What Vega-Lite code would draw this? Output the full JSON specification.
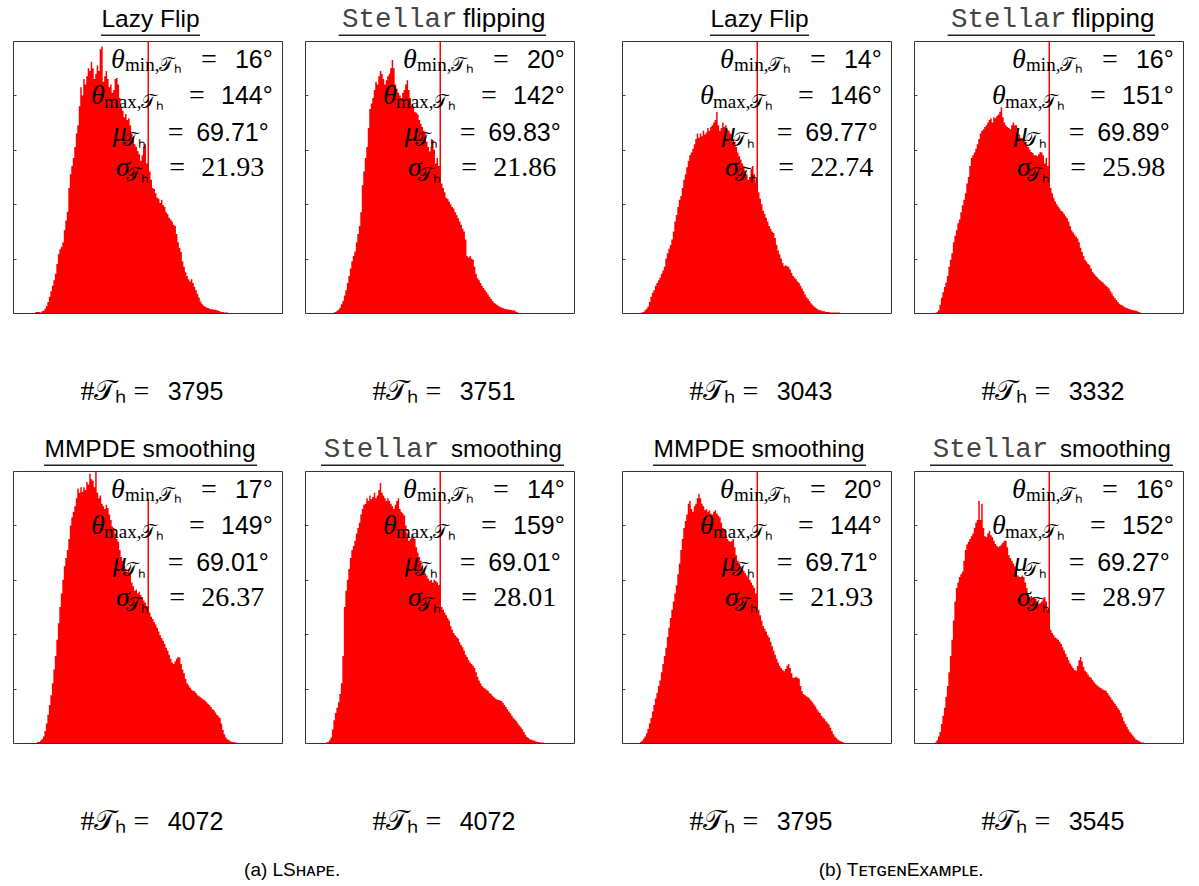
{
"$schema":"https://vega.github.io/schema/vega-lite/v6.json",
"background":"white",
"padding":{"left":9,"top":3,"right":7,"bottom":4},
"spacing":43,
"config":{"view":{"stroke":"#333","strokeWidth":1},"font":"Liberation Sans","text":{"color":"#000"},"headerFacet":{"labels":false,"title":null,"labelFontSize":1,"labelPadding":0,"labelColor":"transparent","labelExpr":"''"}},
"datasets":{
"info":[
{"p":"a1","tc":"Lazy Flip","tm":"","ts":"","tmin":"16°","tmax":"144°","mu":"69.71°","sg":"21.93","n":"3795"},
{"p":"a2","tc":"","tm":"Stellar","ts":"flipping","tmin":"20°","tmax":"142°","mu":"69.83°","sg":"21.86","n":"3751"},
{"p":"a3","tc":"MMPDE smoothing","tm":"","ts":"","tmin":"17°","tmax":"149°","mu":"69.01°","sg":"26.37","n":"4072"},
{"p":"a4","tc":"","tm":"Stellar","ts":"smoothing","tmin":"14°","tmax":"159°","mu":"69.01°","sg":"28.01","n":"4072"},
{"p":"b1","tc":"Lazy Flip","tm":"","ts":"","tmin":"14°","tmax":"146°","mu":"69.77°","sg":"22.74","n":"3043"},
{"p":"b2","tc":"","tm":"Stellar","ts":"flipping","tmin":"16°","tmax":"151°","mu":"69.89°","sg":"25.98","n":"3332"},
{"p":"b3","tc":"MMPDE smoothing","tm":"","ts":"","tmin":"20°","tmax":"144°","mu":"69.71°","sg":"21.93","n":"3795"},
{"p":"b4","tc":"","tm":"Stellar","ts":"smoothing","tmin":"16°","tmax":"152°","mu":"69.27°","sg":"28.97","n":"3545"}
],
"hist":[
{"x":12,"a1":0,"a2":0,"a3":0,"a4":0,"b1":0,"b2":0,"b3":0.02,"b4":0},
{"x":13,"a1":0,"a2":0,"a3":0,"a4":0,"b1":0.01,"b2":0,"b3":0.04,"b4":0},
{"x":14,"a1":0,"a2":0,"a3":0,"a4":0.01,"b1":0.02,"b2":0,"b3":0.08,"b4":0.01},
{"x":15,"a1":0.02,"a2":0,"a3":0,"a4":0.02,"b1":0.05,"b2":0.02,"b3":0.12,"b4":0.05},
{"x":16,"a1":0.02,"a2":0,"a3":0.02,"a4":0.05,"b1":0.08,"b2":0.05,"b3":0.18,"b4":0.12},
{"x":17,"a1":0.02,"a2":0,"a3":0.02,"a4":0.1,"b1":0.12,"b2":0.15,"b3":0.26,"b4":0.2},
{"x":18,"a1":0.01,"a2":0,"a3":0.04,"a4":0.25,"b1":0.2,"b2":0.28,"b3":0.36,"b4":0.35},
{"x":19,"a1":0.03,"a2":0.01,"a3":0.07,"a4":0.42,"b1":0.3,"b2":0.38,"b3":0.46,"b4":0.5},
{"x":20,"a1":0.04,"a2":0.02,"a3":0.12,"a4":0.55,"b1":0.37,"b2":0.48,"b3":0.58,"b4":0.65},
{"x":21,"a1":0.08,"a2":0.04,"a3":0.22,"a4":0.65,"b1":0.42,"b2":0.56,"b3":0.7,"b4":0.85},
{"x":22,"a1":0.13,"a2":0.06,"a3":0.36,"a4":0.75,"b1":0.5,"b2":0.68,"b3":0.82,"b4":1.05},
{"x":23,"a1":0.2,"a2":0.1,"a3":0.52,"a4":0.9,"b1":0.55,"b2":0.85,"b3":0.92,"b4":1.3},
{"x":24,"a1":0.3,"a2":0.16,"a3":0.7,"a4":1.1,"b1":0.6,"b2":0.98,"b3":1.05,"b4":1.6},
{"x":25,"a1":0.4,"a2":0.22,"a3":0.88,"a4":1.6,"b1":0.65,"b2":1.1,"b3":1.15,"b4":1.9},
{"x":26,"a1":0.5,"a2":0.32,"a3":1.1,"a4":2.5,"b1":0.72,"b2":1.3,"b3":1.3,"b4":2.25},
{"x":27,"a1":0.6,"a2":0.42,"a3":1.35,"a4":2.8,"b1":0.78,"b2":1.42,"b3":1.45,"b4":2.6},
{"x":28,"a1":0.72,"a2":0.55,"a3":1.6,"a4":3.0,"b1":0.85,"b2":1.52,"b3":1.6,"b4":2.85},
{"x":29,"a1":0.9,"a2":0.68,"a3":1.9,"a4":3.2,"b1":1.0,"b2":1.65,"b3":1.75,"b4":2.95},
{"x":30,"a1":1.08,"a2":0.82,"a3":2.2,"a4":3.4,"b1":1.1,"b2":1.72,"b3":1.95,"b4":3.05},
{"x":31,"a1":1.17,"a2":0.95,"a3":2.5,"a4":3.55,"b1":1.18,"b2":1.85,"b3":2.12,"b4":3.1},
{"x":32,"a1":1.22,"a2":1.05,"a3":2.75,"a4":3.62,"b1":1.25,"b2":1.98,"b3":2.3,"b4":3.15},
{"x":33,"a1":1.3,"a2":1.13,"a3":3.0,"a4":3.72,"b1":1.35,"b2":2.08,"b3":2.45,"b4":3.35},
{"x":34,"a1":1.52,"a2":1.3,"a3":3.25,"a4":3.85,"b1":1.5,"b2":2.2,"b3":2.6,"b4":3.55},
{"x":35,"a1":1.7,"a2":1.45,"a3":3.4,"a4":3.95,"b1":1.68,"b2":2.38,"b3":2.75,"b4":3.65},
{"x":36,"a1":1.86,"a2":1.6,"a3":3.55,"a4":4.05,"b1":1.8,"b2":2.5,"b3":2.9,"b4":3.7},
{"x":37,"a1":2.3,"a2":1.85,"a3":3.75,"a4":4.2,"b1":1.95,"b2":2.7,"b3":3.1,"b4":3.75},
{"x":38,"a1":2.55,"a2":2.35,"a3":4.0,"a4":4.3,"b1":2.08,"b2":2.85,"b3":3.3,"b4":3.8},
{"x":39,"a1":2.7,"a2":2.6,"a3":4.15,"a4":4.38,"b1":2.15,"b2":2.9,"b3":3.55,"b4":3.85},
{"x":40,"a1":2.85,"a2":2.85,"a3":4.25,"a4":4.4,"b1":2.3,"b2":2.95,"b3":3.75,"b4":3.95},
{"x":41,"a1":3.05,"a2":3.05,"a3":4.35,"a4":4.5,"b1":2.45,"b2":3.02,"b3":3.95,"b4":4.05},
{"x":42,"a1":3.3,"a2":3.4,"a3":4.5,"a4":4.45,"b1":2.55,"b2":3.1,"b3":4.08,"b4":4.1},
{"x":43,"a1":3.45,"a2":3.75,"a3":4.68,"a4":4.55,"b1":2.68,"b2":3.2,"b3":4.2,"b4":4.45},
{"x":44,"a1":3.8,"a2":3.85,"a3":4.6,"a4":4.48,"b1":2.8,"b2":3.3,"b3":4.4,"b4":4.1},
{"x":45,"a1":4.15,"a2":3.95,"a3":4.7,"a4":4.52,"b1":2.9,"b2":3.35,"b3":4.45,"b4":4.4},
{"x":46,"a1":4.0,"a2":4.1,"a3":4.62,"a4":4.6,"b1":2.95,"b2":3.38,"b3":4.3,"b4":3.95},
{"x":47,"a1":4.3,"a2":4.25,"a3":4.7,"a4":4.5,"b1":3.02,"b2":3.42,"b3":4.25,"b4":3.8},
{"x":48,"a1":4.2,"a2":4.2,"a3":4.65,"a4":4.55,"b1":3.1,"b2":3.45,"b3":4.35,"b4":3.78},
{"x":49,"a1":4.35,"a2":4.35,"a3":4.8,"a4":4.65,"b1":3.2,"b2":3.5,"b3":4.4,"b4":3.85},
{"x":50,"a1":4.5,"a2":4.45,"a3":4.75,"a4":4.78,"b1":3.3,"b2":3.55,"b3":4.5,"b4":3.9},
{"x":51,"a1":4.45,"a2":4.4,"a3":4.95,"a4":4.6,"b1":3.22,"b2":3.58,"b3":4.58,"b4":3.82},
{"x":52,"a1":4.62,"a2":4.3,"a3":4.85,"a4":4.55,"b1":3.3,"b2":3.5,"b3":4.5,"b4":3.78},
{"x":53,"a1":4.5,"a2":4.2,"a3":4.82,"a4":4.5,"b1":3.25,"b2":3.6,"b3":4.4,"b4":3.72},
{"x":54,"a1":4.3,"a2":4.28,"a3":4.7,"a4":4.45,"b1":3.35,"b2":3.58,"b3":4.35,"b4":3.66},
{"x":55,"a1":4.4,"a2":4.35,"a3":5.0,"a4":4.5,"b1":3.28,"b2":3.62,"b3":4.28,"b4":3.62},
{"x":56,"a1":4.55,"a2":4.4,"a3":4.6,"a4":4.45,"b1":3.32,"b2":3.65,"b3":4.3,"b4":3.6},
{"x":57,"a1":4.45,"a2":4.5,"a3":4.5,"a4":4.4,"b1":3.4,"b2":3.7,"b3":4.25,"b4":3.62},
{"x":58,"a1":4.85,"a2":4.65,"a3":4.55,"a4":4.35,"b1":3.35,"b2":3.78,"b3":4.28,"b4":3.65},
{"x":59,"a1":4.9,"a2":4.5,"a3":4.4,"a4":4.3,"b1":3.42,"b2":3.6,"b3":4.22,"b4":3.68},
{"x":60,"a1":4.25,"a2":4.2,"a3":4.35,"a4":4.38,"b1":3.45,"b2":3.5,"b3":4.2,"b4":3.72},
{"x":61,"a1":4.35,"a2":4.12,"a3":4.3,"a4":4.45,"b1":3.5,"b2":3.45,"b3":4.25,"b4":3.72},
{"x":62,"a1":4.45,"a2":4.05,"a3":4.38,"a4":4.5,"b1":3.55,"b2":3.42,"b3":4.28,"b4":3.6},
{"x":63,"a1":4.3,"a2":4.0,"a3":4.32,"a4":4.3,"b1":3.7,"b2":3.4,"b3":4.22,"b4":3.45},
{"x":64,"a1":4.15,"a2":3.95,"a3":4.2,"a4":4.25,"b1":3.45,"b2":3.38,"b3":4.18,"b4":3.4},
{"x":65,"a1":4.2,"a2":4.05,"a3":4.1,"a4":4.22,"b1":3.35,"b2":3.45,"b3":4.15,"b4":3.35},
{"x":66,"a1":4.05,"a2":4.1,"a3":3.98,"a4":4.18,"b1":3.4,"b2":3.5,"b3":4.05,"b4":3.3},
{"x":67,"a1":4.1,"a2":4.2,"a3":3.95,"a4":4.0,"b1":3.5,"b2":3.45,"b3":3.95,"b4":3.25},
{"x":68,"a1":4.3,"a2":4.28,"a3":3.85,"a4":3.85,"b1":3.42,"b2":3.45,"b3":3.9,"b4":3.15},
{"x":69,"a1":4.32,"a2":4.1,"a3":3.75,"a4":3.72,"b1":3.45,"b2":3.35,"b3":3.82,"b4":3.08},
{"x":70,"a1":4.2,"a2":3.95,"a3":3.7,"a4":3.75,"b1":3.38,"b2":3.28,"b3":3.75,"b4":3.05},
{"x":71,"a1":3.95,"a2":3.82,"a3":3.55,"a4":3.8,"b1":3.35,"b2":3.22,"b3":3.72,"b4":3.05},
{"x":72,"a1":3.78,"a2":3.78,"a3":3.42,"a4":3.78,"b1":3.3,"b2":3.2,"b3":3.7,"b4":3.08},
{"x":73,"a1":3.72,"a2":3.7,"a3":3.35,"a4":3.75,"b1":3.28,"b2":3.18,"b3":3.72,"b4":3.05},
{"x":74,"a1":3.6,"a2":3.68,"a3":3.25,"a4":3.6,"b1":3.2,"b2":3.15,"b3":3.75,"b4":2.95},
{"x":75,"a1":3.66,"a2":3.65,"a3":3.2,"a4":3.5,"b1":3.15,"b2":3.1,"b3":3.6,"b4":2.85},
{"x":76,"a1":3.55,"a2":3.55,"a3":3.15,"a4":3.42,"b1":3.05,"b2":3.05,"b3":3.45,"b4":2.72},
{"x":77,"a1":3.58,"a2":3.48,"a3":3.18,"a4":3.35,"b1":2.95,"b2":3.0,"b3":3.35,"b4":2.68},
{"x":78,"a1":3.45,"a2":3.42,"a3":3.1,"a4":3.25,"b1":2.88,"b2":2.96,"b3":3.29,"b4":2.7},
{"x":79,"a1":3.3,"a2":3.35,"a3":2.95,"a4":3.18,"b1":2.82,"b2":2.94,"b3":3.25,"b4":2.68},
{"x":80,"a1":3.22,"a2":3.3,"a3":2.88,"a4":3.12,"b1":2.75,"b2":2.9,"b3":3.2,"b4":2.68},
{"x":81,"a1":3.1,"a2":3.15,"a3":2.8,"a4":3.08,"b1":2.7,"b2":2.9,"b3":3.17,"b4":2.65},
{"x":82,"a1":3.05,"a2":3.05,"a3":2.82,"a4":3.02,"b1":2.62,"b2":2.88,"b3":3.12,"b4":2.6},
{"x":83,"a1":2.98,"a2":2.97,"a3":2.75,"a4":2.98,"b1":2.55,"b2":2.92,"b3":3.08,"b4":2.56},
{"x":84,"a1":2.92,"a2":3.05,"a3":2.78,"a4":3.0,"b1":2.45,"b2":2.96,"b3":3.04,"b4":2.58},
{"x":85,"a1":2.8,"a2":3.18,"a3":2.72,"a4":2.95,"b1":2.5,"b2":2.95,"b3":3.0,"b4":2.6},
{"x":86,"a1":2.9,"a2":3.0,"a3":2.68,"a4":3.0,"b1":2.65,"b2":2.9,"b3":2.95,"b4":2.65},
{"x":87,"a1":3.05,"a2":2.75,"a3":2.62,"a4":2.98,"b1":2.7,"b2":2.75,"b3":2.9,"b4":2.68},
{"x":88,"a1":3.1,"a2":2.85,"a3":2.58,"a4":2.95,"b1":2.55,"b2":2.85,"b3":2.85,"b4":2.6},
{"x":89,"a1":2.75,"a2":2.7,"a3":2.52,"a4":2.9,"b1":2.4,"b2":2.7,"b3":2.75,"b4":2.45},
{"x":90,"a1":5.6,"a2":5.6,"a3":4.49,"a4":5.6,"b1":5.6,"b2":5.6,"b3":5.6,"b4":5.6},
{"x":91,"a1":2.6,"a2":2.38,"a3":2.4,"a4":2.5,"b1":2.22,"b2":2.3,"b3":2.45,"b4":2.08},
{"x":92,"a1":2.45,"a2":2.3,"a3":2.32,"a4":2.45,"b1":2.1,"b2":2.2,"b3":2.35,"b4":2.02},
{"x":93,"a1":2.3,"a2":2.22,"a3":2.28,"a4":2.4,"b1":2.0,"b2":2.12,"b3":2.25,"b4":1.98},
{"x":94,"a1":2.28,"a2":2.12,"a3":2.22,"a4":2.35,"b1":1.88,"b2":2.05,"b3":2.15,"b4":1.94},
{"x":95,"a1":2.2,"a2":2.1,"a3":2.18,"a4":2.3,"b1":1.82,"b2":2.0,"b3":2.1,"b4":1.92},
{"x":96,"a1":2.12,"a2":2.05,"a3":2.12,"a4":2.25,"b1":1.75,"b2":1.96,"b3":2.05,"b4":1.9},
{"x":97,"a1":2.1,"a2":2.0,"a3":2.05,"a4":2.15,"b1":1.68,"b2":1.92,"b3":1.98,"b4":1.86},
{"x":98,"a1":2.02,"a2":1.95,"a3":1.98,"a4":2.08,"b1":1.6,"b2":1.88,"b3":1.94,"b4":1.82},
{"x":99,"a1":2.08,"a2":1.92,"a3":1.93,"a4":2.02,"b1":1.55,"b2":1.86,"b3":1.86,"b4":1.76},
{"x":100,"a1":1.98,"a2":1.85,"a3":1.88,"a4":1.98,"b1":1.5,"b2":1.82,"b3":1.78,"b4":1.7},
{"x":101,"a1":1.95,"a2":1.8,"a3":1.82,"a4":1.95,"b1":1.47,"b2":1.78,"b3":1.7,"b4":1.64},
{"x":102,"a1":1.85,"a2":1.74,"a3":1.75,"a4":1.92,"b1":1.38,"b2":1.74,"b3":1.62,"b4":1.58},
{"x":103,"a1":1.82,"a2":1.68,"a3":1.7,"a4":1.85,"b1":1.25,"b2":1.68,"b3":1.55,"b4":1.52},
{"x":104,"a1":1.75,"a2":1.62,"a3":1.62,"a4":1.8,"b1":1.15,"b2":1.6,"b3":1.48,"b4":1.46},
{"x":105,"a1":1.72,"a2":1.55,"a3":1.55,"a4":1.76,"b1":1.08,"b2":1.52,"b3":1.42,"b4":1.42},
{"x":106,"a1":1.68,"a2":1.5,"a3":1.48,"a4":1.7,"b1":1.0,"b2":1.48,"b3":1.38,"b4":1.38},
{"x":107,"a1":1.62,"a2":1.35,"a3":1.45,"a4":1.62,"b1":0.92,"b2":1.44,"b3":1.34,"b4":1.34},
{"x":108,"a1":1.6,"a2":1.05,"a3":1.5,"a4":1.58,"b1":0.86,"b2":1.4,"b3":1.32,"b4":1.33},
{"x":109,"a1":1.45,"a2":1.02,"a3":1.55,"a4":1.52,"b1":0.88,"b2":1.37,"b3":1.36,"b4":1.42},
{"x":110,"a1":1.3,"a2":1.05,"a3":1.58,"a4":1.48,"b1":0.86,"b2":1.3,"b3":1.42,"b4":1.52},
{"x":111,"a1":1.2,"a2":1.0,"a3":1.57,"a4":1.45,"b1":0.85,"b2":1.2,"b3":1.45,"b4":1.58},
{"x":112,"a1":1.12,"a2":0.98,"a3":1.45,"a4":1.42,"b1":0.8,"b2":1.12,"b3":1.38,"b4":1.5},
{"x":113,"a1":0.95,"a2":0.85,"a3":1.35,"a4":1.38,"b1":0.74,"b2":1.05,"b3":1.28,"b4":1.4},
{"x":114,"a1":0.85,"a2":0.72,"a3":1.28,"a4":1.3,"b1":0.68,"b2":0.98,"b3":1.2,"b4":1.33},
{"x":115,"a1":0.75,"a2":0.64,"a3":1.18,"a4":1.22,"b1":0.65,"b2":0.94,"b3":1.2,"b4":1.3},
{"x":116,"a1":0.68,"a2":0.6,"a3":1.1,"a4":1.15,"b1":0.62,"b2":0.9,"b3":1.22,"b4":1.26},
{"x":117,"a1":0.62,"a2":0.55,"a3":1.06,"a4":1.1,"b1":0.58,"b2":0.88,"b3":1.2,"b4":1.22},
{"x":118,"a1":0.58,"a2":0.5,"a3":1.02,"a4":1.05,"b1":0.55,"b2":0.82,"b3":1.18,"b4":1.2},
{"x":119,"a1":0.62,"a2":0.46,"a3":0.98,"a4":1.02,"b1":0.5,"b2":0.76,"b3":1.05,"b4":1.16},
{"x":120,"a1":0.55,"a2":0.42,"a3":0.96,"a4":1.0,"b1":0.45,"b2":0.72,"b3":0.95,"b4":1.12},
{"x":121,"a1":0.48,"a2":0.38,"a3":0.95,"a4":0.98,"b1":0.4,"b2":0.69,"b3":0.9,"b4":1.09},
{"x":122,"a1":0.42,"a2":0.34,"a3":0.92,"a4":0.96,"b1":0.34,"b2":0.66,"b3":0.88,"b4":1.06},
{"x":123,"a1":0.35,"a2":0.3,"a3":0.88,"a4":0.92,"b1":0.29,"b2":0.63,"b3":0.86,"b4":1.04},
{"x":124,"a1":0.28,"a2":0.26,"a3":0.86,"a4":0.9,"b1":0.26,"b2":0.6,"b3":0.84,"b4":1.02},
{"x":125,"a1":0.21,"a2":0.22,"a3":0.84,"a4":0.87,"b1":0.22,"b2":0.58,"b3":0.82,"b4":1.0},
{"x":126,"a1":0.17,"a2":0.19,"a3":0.82,"a4":0.84,"b1":0.18,"b2":0.56,"b3":0.78,"b4":0.98},
{"x":127,"a1":0.14,"a2":0.17,"a3":0.8,"a4":0.82,"b1":0.15,"b2":0.53,"b3":0.75,"b4":0.97},
{"x":128,"a1":0.12,"a2":0.15,"a3":0.78,"a4":0.8,"b1":0.12,"b2":0.5,"b3":0.71,"b4":0.96},
{"x":129,"a1":0.1,"a2":0.13,"a3":0.75,"a4":0.79,"b1":0.1,"b2":0.48,"b3":0.67,"b4":0.92},
{"x":130,"a1":0.09,"a2":0.11,"a3":0.72,"a4":0.78,"b1":0.08,"b2":0.45,"b3":0.62,"b4":0.88},
{"x":131,"a1":0.08,"a2":0.1,"a3":0.7,"a4":0.77,"b1":0.06,"b2":0.4,"b3":0.58,"b4":0.84},
{"x":132,"a1":0.07,"a2":0.09,"a3":0.66,"a4":0.74,"b1":0.05,"b2":0.36,"b3":0.55,"b4":0.8},
{"x":133,"a1":0.07,"a2":0.08,"a3":0.62,"a4":0.7,"b1":0.04,"b2":0.31,"b3":0.5,"b4":0.76},
{"x":134,"a1":0.06,"a2":0.07,"a3":0.6,"a4":0.66,"b1":0.03,"b2":0.27,"b3":0.47,"b4":0.72},
{"x":135,"a1":0.06,"a2":0.07,"a3":0.56,"a4":0.62,"b1":0.03,"b2":0.24,"b3":0.44,"b4":0.68},
{"x":136,"a1":0.05,"a2":0.06,"a3":0.52,"a4":0.58,"b1":0.02,"b2":0.2,"b3":0.4,"b4":0.64},
{"x":137,"a1":0.04,"a2":0.06,"a3":0.49,"a4":0.54,"b1":0.02,"b2":0.17,"b3":0.37,"b4":0.6},
{"x":138,"a1":0.03,"a2":0.05,"a3":0.46,"a4":0.5,"b1":0.02,"b2":0.15,"b3":0.34,"b4":0.55},
{"x":139,"a1":0.02,"a2":0.05,"a3":0.36,"a4":0.46,"b1":0.01,"b2":0.14,"b3":0.28,"b4":0.48},
{"x":140,"a1":0.02,"a2":0.04,"a3":0.24,"a4":0.43,"b1":0.01,"b2":0.12,"b3":0.22,"b4":0.4},
{"x":141,"a1":0.01,"a2":0.02,"a3":0.16,"a4":0.4,"b1":0.01,"b2":0.1,"b3":0.16,"b4":0.35},
{"x":142,"a1":0.01,"a2":0.01,"a3":0.1,"a4":0.36,"b1":0.01,"b2":0.09,"b3":0.12,"b4":0.3},
{"x":143,"a1":0.01,"a2":0,"a3":0.07,"a4":0.32,"b1":0.01,"b2":0.08,"b3":0.09,"b4":0.25},
{"x":144,"a1":0,"a2":0,"a3":0.05,"a4":0.29,"b1":0.01,"b2":0.07,"b3":0.06,"b4":0.2},
{"x":145,"a1":0,"a2":0,"a3":0.03,"a4":0.25,"b1":0.01,"b2":0.06,"b3":0.04,"b4":0.17},
{"x":146,"a1":0,"a2":0,"a3":0.02,"a4":0.2,"b1":0,"b2":0.05,"b3":0.03,"b4":0.14},
{"x":147,"a1":0,"a2":0,"a3":0.02,"a4":0.15,"b1":0,"b2":0.05,"b3":0.02,"b4":0.1},
{"x":148,"a1":0,"a2":0,"a3":0.01,"a4":0.11,"b1":0,"b2":0.04,"b3":0.01,"b4":0.07},
{"x":149,"a1":0,"a2":0,"a3":0.01,"a4":0.09,"b1":0,"b2":0.03,"b3":0,"b4":0.05},
{"x":150,"a1":0,"a2":0,"a3":0,"a4":0.07,"b1":0,"b2":0.02,"b3":0,"b4":0.04},
{"x":151,"a1":0,"a2":0,"a3":0,"a4":0.06,"b1":0,"b2":0.01,"b3":0,"b4":0.02},
{"x":152,"a1":0,"a2":0,"a3":0,"a4":0.05,"b1":0,"b2":0,"b3":0,"b4":0.01},
{"x":153,"a1":0,"a2":0,"a3":0,"a4":0.04,"b1":0,"b2":0,"b3":0,"b4":0.01},
{"x":154,"a1":0,"a2":0,"a3":0,"a4":0.03,"b1":0,"b2":0,"b3":0,"b4":0},
{"x":155,"a1":0,"a2":0,"a3":0,"a4":0.02,"b1":0,"b2":0,"b3":0,"b4":0},
{"x":156,"a1":0,"a2":0,"a3":0,"a4":0.02,"b1":0,"b2":0,"b3":0,"b4":0},
{"x":157,"a1":0,"a2":0,"a3":0,"a4":0.01,"b1":0,"b2":0,"b3":0,"b4":0},
{"x":158,"a1":0,"a2":0,"a3":0,"a4":0.01,"b1":0,"b2":0,"b3":0,"b4":0},
{"x":159,"a1":0,"a2":0,"a3":0,"a4":0.01,"b1":0,"b2":0,"b3":0,"b4":0},
{"x":160,"a1":0,"a2":0,"a3":0,"a4":0,"b1":0,"b2":0,"b3":0,"b4":0}
]},
"hconcat":[
{
"data":{"name":"hist"},
"transform":[{"fold":["a1","a2","a3","a4"],"as":["p","y"]},{"lookup":"p","from":{"data":{"name":"info"},"key":"p","fields":["tc","tm","ts","tmin","tmax","mu","sg","n"]}}],
"facet":{"field":"p","type":"nominal","title":null,"header":{"labels":false,"title":null,"labelFontSize":1,"labelPadding":0,"labelColor":"transparent","labelExpr":"''"}},
"columns":2,
"spacing":{"row":158,"column":23},
"bounds":"flush",
"resolve":{"axis":{"x":"independent","y":"independent"}},
"title":{"text":"(a) LSʜᴀᴘᴇ.","orient":"bottom","anchor":"middle","baseline":"top","offset":24,"fontSize":19,"font":"Liberation Sans","fontWeight":"normal","color":"#000"},
"spec":{
"width":269,"height":272,
"resolve":{"axis":{"y":"independent"}},
"layer":[
{"mark":{"type":"area","color":"#ff0000","interpolate":"step-after","clip":true},
 "encoding":{
  "x":{"field":"x","type":"quantitative","scale":{"domain":[0,180],"nice":false,"zero":false},"axis":{"values":[0,20,40,60,80,100,120,140,160,180],"title":null,"grid":false,"domain":false,"ticks":false,"labelFontSize":10,"labelColor":"#555","labelPadding":6,"labelFont":"Liberation Sans"}},
  "y":{"field":"y","type":"quantitative","stack":null,"scale":{"domain":[0,5],"nice":false},"axis":{"values":[0,1,2,3,4,5],"title":null,"grid":false,"domain":false,"labels":false,"ticks":true,"tickSize":-3,"tickColor":"#444"}}}},
{"transform":[{"filter":{"field":"x","equal":100}}],
 "layer":[
  {"mark":{"type":"point","opacity":0},"encoding":{"x":{"datum":0,"type":"quantitative","axis":null},"y":{"datum":0,"type":"quantitative","axis":{"orient":"right","values":[0,1,2,3,4,5],"title":null,"grid":false,"domain":false,"labels":false,"ticks":true,"tickSize":-3,"tickColor":"#444"}}}},
  {"transform":[{"filter":"datum.tc=='Lazy Flip'"}],"mark":{"type":"text","font":"Liberation Sans","fontSize":24.5,"align":"center","baseline":"alphabetic"},"encoding":{"x":{"datum":92,"axis":null},"y":{"datum":5.25,"axis":null},"text":{"field":"tc"}}},
  {"transform":[{"filter":"datum.tc=='MMPDE smoothing'"}],"mark":{"type":"text","font":"Liberation Sans","fontSize":24.5,"align":"center","baseline":"alphabetic"},"encoding":{"x":{"datum":91.7,"axis":null},"y":{"datum":5.25,"axis":null},"text":{"field":"tc"}}},
  {"transform":[{"filter":"datum.ts=='flipping'"}],"mark":{"type":"text","font":"Liberation Mono","fontSize":27.5,"align":"right","baseline":"alphabetic","color":"#444"},"encoding":{"x":{"datum":102,"axis":null},"y":{"datum":5.25,"axis":null},"text":{"field":"tm"}}},
  {"transform":[{"filter":"datum.ts=='smoothing'"}],"mark":{"type":"text","font":"Liberation Mono","fontSize":27.5,"align":"right","baseline":"alphabetic","color":"#444"},"encoding":{"x":{"datum":89.9,"axis":null},"y":{"datum":5.25,"axis":null},"text":{"field":"tm"}}},
  {"transform":[{"filter":"datum.ts=='flipping'"}],"mark":{"type":"text","font":"Liberation Sans","fontSize":26,"align":"left","baseline":"alphabetic"},"encoding":{"x":{"datum":105.7,"axis":null},"y":{"datum":5.25,"axis":null},"text":{"field":"ts"}}},
  {"transform":[{"filter":"datum.ts=='smoothing'"}],"mark":{"type":"text","font":"Liberation Sans","fontSize":24,"align":"left","baseline":"alphabetic"},"encoding":{"x":{"datum":97.7,"axis":null},"y":{"datum":5.25,"axis":null},"text":{"field":"ts"}}},
  {"transform":[{"filter":"datum.tc=='Lazy Flip'"}],"mark":{"type":"rule","color":"#222","strokeWidth":1.5},"encoding":{"x":{"datum":58.9,"axis":null},"x2":{"datum":125.1},"y":{"datum":5.105,"axis":null}}},
  {"transform":[{"filter":"datum.tc=='MMPDE smoothing'"}],"mark":{"type":"rule","color":"#222","strokeWidth":1.5},"encoding":{"x":{"datum":20.7,"axis":null},"x2":{"datum":163.3},"y":{"datum":5.105,"axis":null}}},
  {"transform":[{"filter":"datum.ts=='flipping'"}],"mark":{"type":"rule","color":"#222","strokeWidth":1.5},"encoding":{"x":{"datum":22.5,"axis":null},"x2":{"datum":161.3},"y":{"datum":5.105,"axis":null}}},
  {"transform":[{"filter":"datum.ts=='smoothing'"}],"mark":{"type":"rule","color":"#222","strokeWidth":1.5},"encoding":{"x":{"datum":10.7,"axis":null},"x2":{"datum":173.3},"y":{"datum":5.105,"axis":null}}},
  {"mark":{"type":"text","font":"Liberation Serif","fontStyle":"italic","fontSize":28,"align":"left","baseline":"alphabetic"},"encoding":{"x":{"datum":65.6,"axis":null},"y":{"datum":4.51,"axis":null},"text":{"value":"θ"}}},
  {"mark":{"type":"text","font":"Liberation Serif","fontStyle":"italic","fontSize":28,"align":"left","baseline":"alphabetic"},"encoding":{"x":{"datum":52.2,"axis":null},"y":{"datum":3.836,"axis":null},"text":{"value":"θ"}}},
  {"mark":{"type":"text","font":"Liberation Serif","fontStyle":"italic","fontSize":28,"align":"left","baseline":"alphabetic"},"encoding":{"x":{"datum":66.7,"axis":null},"y":{"datum":3.16,"axis":null},"text":{"value":"μ"}}},
  {"mark":{"type":"text","font":"Liberation Serif","fontStyle":"italic","fontSize":28,"align":"left","baseline":"alphabetic"},"encoding":{"x":{"datum":68.9,"axis":null},"y":{"datum":2.52,"axis":null},"text":{"value":"σ"}}},
  {"mark":{"type":"text","font":"Liberation Serif","fontSize":19,"align":"left","baseline":"alphabetic"},"encoding":{"x":{"datum":75,"axis":null},"y":{"datum":4.45,"axis":null},"text":{"value":"min,𝒯ₕ"}}},
  {"mark":{"type":"text","font":"Liberation Serif","fontSize":19,"align":"left","baseline":"alphabetic"},"encoding":{"x":{"datum":60.9,"axis":null},"y":{"datum":3.776,"axis":null},"text":{"value":"max,𝒯ₕ"}}},
  {"mark":{"type":"text","font":"Liberation Serif","fontSize":19,"align":"left","baseline":"alphabetic"},"encoding":{"x":{"datum":73.4,"axis":null},"y":{"datum":3.07,"axis":null},"text":{"value":"𝒯ₕ"}}},
  {"mark":{"type":"text","font":"Liberation Serif","fontSize":19,"align":"left","baseline":"alphabetic"},"encoding":{"x":{"datum":75.6,"axis":null},"y":{"datum":2.43,"axis":null},"text":{"value":"𝒯ₕ"}}},
  {"mark":{"type":"text","font":"Liberation Serif","fontSize":28,"align":"left","baseline":"alphabetic"},"encoding":{"x":{"datum":125.8,"axis":null},"y":{"datum":4.51,"axis":null},"text":{"value":"="}}},
  {"mark":{"type":"text","font":"Liberation Serif","fontSize":28,"align":"left","baseline":"alphabetic"},"encoding":{"x":{"datum":117.8,"axis":null},"y":{"datum":3.836,"axis":null},"text":{"value":"="}}},
  {"mark":{"type":"text","font":"Liberation Serif","fontSize":28,"align":"left","baseline":"alphabetic"},"encoding":{"x":{"datum":103.5,"axis":null},"y":{"datum":3.16,"axis":null},"text":{"value":"="}}},
  {"mark":{"type":"text","font":"Liberation Serif","fontSize":28,"align":"left","baseline":"alphabetic"},"encoding":{"x":{"datum":104.6,"axis":null},"y":{"datum":2.52,"axis":null},"text":{"value":"="}}},
  {"mark":{"type":"text","font":"Liberation Sans","fontSize":25,"align":"right","baseline":"alphabetic"},"encoding":{"x":{"datum":173.8,"axis":null},"y":{"datum":4.51,"axis":null},"text":{"field":"tmin"}}},
  {"mark":{"type":"text","font":"Liberation Sans","fontSize":25,"align":"right","baseline":"alphabetic"},"encoding":{"x":{"datum":173.8,"axis":null},"y":{"datum":3.836,"axis":null},"text":{"field":"tmax"}}},
  {"mark":{"type":"text","font":"Liberation Sans","fontSize":25,"align":"right","baseline":"alphabetic"},"encoding":{"x":{"datum":171.1,"axis":null},"y":{"datum":3.16,"axis":null},"text":{"field":"mu"}}},
  {"mark":{"type":"text","font":"Liberation Serif","fontSize":28,"align":"right","baseline":"alphabetic"},"encoding":{"x":{"datum":168.2,"axis":null},"y":{"datum":2.52,"axis":null},"text":{"field":"sg"}}},
  {"mark":{"type":"text","font":"Liberation Serif","fontSize":28,"align":"right","baseline":"alphabetic"},"encoding":{"x":{"datum":91.2,"axis":null},"y":{"datum":-1.6,"axis":null},"text":{"value":"#𝒯ₕ ="}}},
  {"mark":{"type":"text","font":"Liberation Sans","fontSize":25,"align":"left","baseline":"alphabetic"},"encoding":{"x":{"datum":103.5,"axis":null},"y":{"datum":-1.6,"axis":null},"text":{"field":"n"}}}
 ]}
]}
},
{
"data":{"name":"hist"},
"transform":[{"fold":["b1","b2","b3","b4"],"as":["p","y"]},{"lookup":"p","from":{"data":{"name":"info"},"key":"p","fields":["tc","tm","ts","tmin","tmax","mu","sg","n"]}}],
"facet":{"field":"p","type":"nominal","title":null,"header":{"labels":false,"title":null,"labelFontSize":1,"labelPadding":0,"labelColor":"transparent","labelExpr":"''"}},
"columns":2,
"spacing":{"row":158,"column":23},
"bounds":"flush",
"resolve":{"axis":{"x":"independent","y":"independent"}},
"title":{"text":"(b) TᴇᴛɢᴇɴExᴀᴍᴘʟᴇ.","orient":"bottom","anchor":"middle","baseline":"top","offset":24,"fontSize":19,"font":"Liberation Sans","fontWeight":"normal","color":"#000"},
"spec":{
"width":269,"height":272,
"resolve":{"axis":{"y":"independent"}},
"layer":[
{"mark":{"type":"area","color":"#ff0000","interpolate":"step-after","clip":true},
 "encoding":{
  "x":{"field":"x","type":"quantitative","scale":{"domain":[0,180],"nice":false,"zero":false},"axis":{"values":[0,20,40,60,80,100,120,140,160,180],"title":null,"grid":false,"domain":false,"ticks":false,"labelFontSize":10,"labelColor":"#555","labelPadding":6,"labelFont":"Liberation Sans"}},
  "y":{"field":"y","type":"quantitative","stack":null,"scale":{"domain":[0,5],"nice":false},"axis":{"values":[0,1,2,3,4,5],"title":null,"grid":false,"domain":false,"labels":false,"ticks":true,"tickSize":-3,"tickColor":"#444"}}}},
{"transform":[{"filter":{"field":"x","equal":100}}],
 "layer":[
  {"mark":{"type":"point","opacity":0},"encoding":{"x":{"datum":0,"type":"quantitative","axis":null},"y":{"datum":0,"type":"quantitative","axis":{"orient":"right","values":[0,1,2,3,4,5],"title":null,"grid":false,"domain":false,"labels":false,"ticks":true,"tickSize":-3,"tickColor":"#444"}}}},
  {"transform":[{"filter":"datum.tc=='Lazy Flip'"}],"mark":{"type":"text","font":"Liberation Sans","fontSize":24.5,"align":"center","baseline":"alphabetic"},"encoding":{"x":{"datum":92,"axis":null},"y":{"datum":5.25,"axis":null},"text":{"field":"tc"}}},
  {"transform":[{"filter":"datum.tc=='MMPDE smoothing'"}],"mark":{"type":"text","font":"Liberation Sans","fontSize":24.5,"align":"center","baseline":"alphabetic"},"encoding":{"x":{"datum":91.7,"axis":null},"y":{"datum":5.25,"axis":null},"text":{"field":"tc"}}},
  {"transform":[{"filter":"datum.ts=='flipping'"}],"mark":{"type":"text","font":"Liberation Mono","fontSize":27.5,"align":"right","baseline":"alphabetic","color":"#444"},"encoding":{"x":{"datum":102,"axis":null},"y":{"datum":5.25,"axis":null},"text":{"field":"tm"}}},
  {"transform":[{"filter":"datum.ts=='smoothing'"}],"mark":{"type":"text","font":"Liberation Mono","fontSize":27.5,"align":"right","baseline":"alphabetic","color":"#444"},"encoding":{"x":{"datum":89.9,"axis":null},"y":{"datum":5.25,"axis":null},"text":{"field":"tm"}}},
  {"transform":[{"filter":"datum.ts=='flipping'"}],"mark":{"type":"text","font":"Liberation Sans","fontSize":26,"align":"left","baseline":"alphabetic"},"encoding":{"x":{"datum":105.7,"axis":null},"y":{"datum":5.25,"axis":null},"text":{"field":"ts"}}},
  {"transform":[{"filter":"datum.ts=='smoothing'"}],"mark":{"type":"text","font":"Liberation Sans","fontSize":24,"align":"left","baseline":"alphabetic"},"encoding":{"x":{"datum":97.7,"axis":null},"y":{"datum":5.25,"axis":null},"text":{"field":"ts"}}},
  {"transform":[{"filter":"datum.tc=='Lazy Flip'"}],"mark":{"type":"rule","color":"#222","strokeWidth":1.5},"encoding":{"x":{"datum":58.9,"axis":null},"x2":{"datum":125.1},"y":{"datum":5.105,"axis":null}}},
  {"transform":[{"filter":"datum.tc=='MMPDE smoothing'"}],"mark":{"type":"rule","color":"#222","strokeWidth":1.5},"encoding":{"x":{"datum":20.7,"axis":null},"x2":{"datum":163.3},"y":{"datum":5.105,"axis":null}}},
  {"transform":[{"filter":"datum.ts=='flipping'"}],"mark":{"type":"rule","color":"#222","strokeWidth":1.5},"encoding":{"x":{"datum":22.5,"axis":null},"x2":{"datum":161.3},"y":{"datum":5.105,"axis":null}}},
  {"transform":[{"filter":"datum.ts=='smoothing'"}],"mark":{"type":"rule","color":"#222","strokeWidth":1.5},"encoding":{"x":{"datum":10.7,"axis":null},"x2":{"datum":173.3},"y":{"datum":5.105,"axis":null}}},
  {"mark":{"type":"text","font":"Liberation Serif","fontStyle":"italic","fontSize":28,"align":"left","baseline":"alphabetic"},"encoding":{"x":{"datum":65.6,"axis":null},"y":{"datum":4.51,"axis":null},"text":{"value":"θ"}}},
  {"mark":{"type":"text","font":"Liberation Serif","fontStyle":"italic","fontSize":28,"align":"left","baseline":"alphabetic"},"encoding":{"x":{"datum":52.2,"axis":null},"y":{"datum":3.836,"axis":null},"text":{"value":"θ"}}},
  {"mark":{"type":"text","font":"Liberation Serif","fontStyle":"italic","fontSize":28,"align":"left","baseline":"alphabetic"},"encoding":{"x":{"datum":66.7,"axis":null},"y":{"datum":3.16,"axis":null},"text":{"value":"μ"}}},
  {"mark":{"type":"text","font":"Liberation Serif","fontStyle":"italic","fontSize":28,"align":"left","baseline":"alphabetic"},"encoding":{"x":{"datum":68.9,"axis":null},"y":{"datum":2.52,"axis":null},"text":{"value":"σ"}}},
  {"mark":{"type":"text","font":"Liberation Serif","fontSize":19,"align":"left","baseline":"alphabetic"},"encoding":{"x":{"datum":75,"axis":null},"y":{"datum":4.45,"axis":null},"text":{"value":"min,𝒯ₕ"}}},
  {"mark":{"type":"text","font":"Liberation Serif","fontSize":19,"align":"left","baseline":"alphabetic"},"encoding":{"x":{"datum":60.9,"axis":null},"y":{"datum":3.776,"axis":null},"text":{"value":"max,𝒯ₕ"}}},
  {"mark":{"type":"text","font":"Liberation Serif","fontSize":19,"align":"left","baseline":"alphabetic"},"encoding":{"x":{"datum":73.4,"axis":null},"y":{"datum":3.07,"axis":null},"text":{"value":"𝒯ₕ"}}},
  {"mark":{"type":"text","font":"Liberation Serif","fontSize":19,"align":"left","baseline":"alphabetic"},"encoding":{"x":{"datum":75.6,"axis":null},"y":{"datum":2.43,"axis":null},"text":{"value":"𝒯ₕ"}}},
  {"mark":{"type":"text","font":"Liberation Serif","fontSize":28,"align":"left","baseline":"alphabetic"},"encoding":{"x":{"datum":125.8,"axis":null},"y":{"datum":4.51,"axis":null},"text":{"value":"="}}},
  {"mark":{"type":"text","font":"Liberation Serif","fontSize":28,"align":"left","baseline":"alphabetic"},"encoding":{"x":{"datum":117.8,"axis":null},"y":{"datum":3.836,"axis":null},"text":{"value":"="}}},
  {"mark":{"type":"text","font":"Liberation Serif","fontSize":28,"align":"left","baseline":"alphabetic"},"encoding":{"x":{"datum":103.5,"axis":null},"y":{"datum":3.16,"axis":null},"text":{"value":"="}}},
  {"mark":{"type":"text","font":"Liberation Serif","fontSize":28,"align":"left","baseline":"alphabetic"},"encoding":{"x":{"datum":104.6,"axis":null},"y":{"datum":2.52,"axis":null},"text":{"value":"="}}},
  {"mark":{"type":"text","font":"Liberation Sans","fontSize":25,"align":"right","baseline":"alphabetic"},"encoding":{"x":{"datum":173.8,"axis":null},"y":{"datum":4.51,"axis":null},"text":{"field":"tmin"}}},
  {"mark":{"type":"text","font":"Liberation Sans","fontSize":25,"align":"right","baseline":"alphabetic"},"encoding":{"x":{"datum":173.8,"axis":null},"y":{"datum":3.836,"axis":null},"text":{"field":"tmax"}}},
  {"mark":{"type":"text","font":"Liberation Sans","fontSize":25,"align":"right","baseline":"alphabetic"},"encoding":{"x":{"datum":171.1,"axis":null},"y":{"datum":3.16,"axis":null},"text":{"field":"mu"}}},
  {"mark":{"type":"text","font":"Liberation Serif","fontSize":28,"align":"right","baseline":"alphabetic"},"encoding":{"x":{"datum":168.2,"axis":null},"y":{"datum":2.52,"axis":null},"text":{"field":"sg"}}},
  {"mark":{"type":"text","font":"Liberation Serif","fontSize":28,"align":"right","baseline":"alphabetic"},"encoding":{"x":{"datum":91.2,"axis":null},"y":{"datum":-1.6,"axis":null},"text":{"value":"#𝒯ₕ ="}}},
  {"mark":{"type":"text","font":"Liberation Sans","fontSize":25,"align":"left","baseline":"alphabetic"},"encoding":{"x":{"datum":103.5,"axis":null},"y":{"datum":-1.6,"axis":null},"text":{"field":"n"}}}
 ]}
]}
}
]
}
